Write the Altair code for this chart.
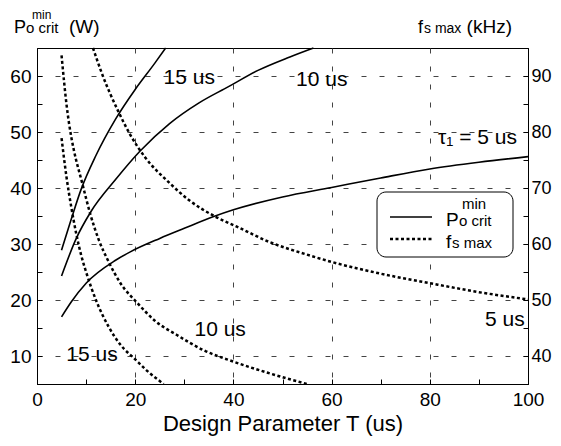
import altair as alt
import pandas as pd

# ---------------- data ----------------
# P_o_crit^min (W), left axis, solid curves
p15_x = [5, 7, 9, 12, 16, 20, 24, 26.2]
p15_y = [28.9, 34.5, 39.8, 45.8, 52.3, 57.6, 62.3, 65]
p10_x = [5, 8, 11, 16, 21, 27, 33, 39, 45, 51.5, 56.3]
p10_y = [24.3, 31, 35.8, 41.5, 46.6, 51.5, 55.2, 58.1, 61, 63.4, 65]
p5_x = [5, 7, 10, 16, 19, 25, 30, 36, 40, 50, 60, 70, 80, 90, 100]
p5_y = [17, 19.7, 23, 27.1, 28.6, 31, 32.8, 34.9, 36.1, 38.4, 40.1, 41.8, 43.4, 44.6, 45.6]

# fs max (kHz), right axis, dotted curves
f15_x = [5, 6, 7, 8, 9, 10, 12, 14.6, 17, 20, 22.5, 25.8]
f15_y = [78.9, 72, 66.5, 61.8, 58, 55, 50, 45.2, 42, 39.4, 37.3, 35]
f10_x = [5, 6, 7, 7.5, 9.2, 10.9, 12.6, 14.6, 17, 20.4, 24, 28.5, 34, 40, 47, 55]
f10_y = [93.7, 85, 79, 76.8, 70.9, 65.2, 60.7, 56.8, 53, 49.5, 46.3, 43.75, 41, 39, 37, 35]
f5_x = [11.4, 13.2, 16.6, 19, 22, 27.1, 31, 36.3, 40.7, 47.5, 55, 60, 70, 80, 90, 100]
f5_y = [95, 90.5, 83.6, 79.5, 75.5, 70.8, 67.8, 64.9, 63.1, 60.3, 58.1, 56.8, 54.7, 53, 51.4, 50.1]

# curve labels (positions on the left-axis scale)
lab_text = ["15 us", "10 us", "\u03c4\u2081 = 5 us", "15 us", "10 us", "5 us"]
lab_x = [31, 58, 89.7, 11.2, 37.3, 95.3]
lab_y = [59.6, 59.3, 49, 10.2, 14.6, 16.4]

x_ticks = list(range(0, 101, 10))
yl_ticks = list(range(5, 66, 5))
yr_ticks = list(range(35, 96, 5))

FONT = "Liberation Sans"

# ---------------- tables ----------------
def curves(specs, col):
    rows = []
    for name, xs, ys in specs:
        for a, b in zip(xs, ys):
            rows.append({"x": a, col: b, "tau": name})
    return pd.DataFrame(rows)

solid_df = curves([("15", p15_x, p15_y), ("10", p10_x, p10_y), ("5", p5_x, p5_y)], "p")
dot_df = curves([("15", f15_x, f15_y), ("10", f10_x, f10_y), ("5", f5_x, f5_y)], "f")
lab_df = pd.DataFrame({"x": lab_x, "p": lab_y, "t": lab_text})
one = pd.DataFrame({"k": [0]})

# ---------------- scales / axes ----------------
xs = alt.Scale(domain=[0, 100], nice=False)
yls = alt.Scale(domain=[5, 65], nice=False, zero=False)
yrs = alt.Scale(domain=[35, 95], nice=False, zero=False)

x_axis = alt.Axis(
    values=x_ticks,
    labelExpr="datum.value % 20 == 0 ? datum.label : ''",
    labelFlush=False,
    tickSize={"expr": "-5"},
    labelPadding=11,
    grid=True,
    gridOpacity={"condition": {"test": "datum.value % 20 == 0 && datum.value > 0 && datum.value < 100", "value": 1}, "value": 0},
    title="Design Parameter T (us)",
    titleFontSize=22,
    titleFontWeight="normal",
    titlePadding=4,
)
yl_axis = alt.Axis(
    values=yl_ticks,
    labelExpr="datum.value % 10 == 0 ? datum.label : ''",
    labelFlush=False,
    tickSize={"expr": "-5"},
    labelPadding=11,
    grid=True,
    gridOpacity={"condition": {"test": "datum.value % 10 == 0 && datum.value > 5 && datum.value < 65", "value": 1}, "value": 0},
    title=None,
)
yr_axis = alt.Axis(
    orient="right",
    values=yr_ticks,
    labelExpr="datum.value % 10 == 0 ? datum.label : ''",
    labelFlush=False,
    tickSize={"expr": "-5"},
    labelPadding=8,
    labelFontSize=18,
    grid=False,
    title=None,
)

X = lambda: alt.X("x:Q", scale=xs, axis=x_axis)

# ---------------- left group ----------------
solid = alt.Chart(solid_df).mark_line(color="black", strokeWidth=1.6, interpolate="monotone").encode(
    x=X(), y=alt.Y("p:Q", scale=yls, axis=yl_axis), detail="tau:N"
)
labels = alt.Chart(lab_df).mark_text(font=FONT, fontSize=21, color="black", baseline="middle", align="center").encode(
    x=X(), y=alt.Y("p:Q", scale=yls, axis=yl_axis), text="t:N"
)

def txt(s, x, y, size, align="left"):
    return alt.Chart(one).mark_text(font=FONT, fontSize=size, color="black", align=align, baseline="alphabetic").encode(
        x=alt.value(x), y=alt.value(y), text=alt.value(s)
    )

legend_box = alt.Chart(one).mark_rect(fill="white", stroke="black", strokeWidth=1, cornerRadius=9).encode(
    x=alt.value(340), x2=alt.value(476), y=alt.value(144), y2=alt.value(209)
)
leg_solid = alt.Chart(one).mark_rule(color="black", strokeWidth=1.6).encode(
    x=alt.value(353), x2=alt.value(395), y=alt.value(169)
)
leg_dot = alt.Chart(one).mark_rule(color="black", strokeWidth=2.5, strokeDash=[3, 2.5]).encode(
    x=alt.value(353), x2=alt.value(395), y=alt.value(191)
)

left = alt.layer(
    solid,
    labels,
    legend_box,
    leg_solid,
    leg_dot,
    txt("P", 409, 178, 19),
    txt("min", 425, 161, 15),
    txt("o crit", 422, 178, 15),
    txt("f", 409, 200, 19),
    txt("s max", 415, 200, 15),
    txt("P", -23, -15, 18),
    txt("min", -5, -29, 12),
    txt("o crit", -11, -15, 15),
    txt("(W)", 32, -15, 19),
    txt("f", 381, -15, 18),
    txt("s max", 387, -15, 14),
    txt("(kHz)", 475, -15, 19, align="right"),
)

# ---------------- right group ----------------
dotted = alt.Chart(dot_df).mark_line(color="black", strokeWidth=2.5, strokeDash=[3, 2.5], interpolate="monotone").encode(
    x=X(), y=alt.Y("f:Q", scale=yrs, axis=yr_axis), detail="tau:N"
)

chart = alt.layer(left, dotted).resolve_scale(y="independent").properties(
    width=491,
    height=336,
    autosize=alt.AutoSizeParams(type="none"),
    padding={"left": 29, "top": 40, "right": 25, "bottom": 52},
).configure_view(stroke="black", strokeWidth=1).configure_axis(
    labelFont=FONT,
    titleFont=FONT,
    labelFontSize=19,
    labelColor="black",
    titleColor="black",
    domainColor="black",
    domainWidth=1,
    tickColor="black",
    tickWidth=1,
    gridColor="#444444",
    gridWidth=1,
    gridDash=[5, 13],
)

chart.save("out.html", embed_options={"renderer": "svg", "actions": False})
